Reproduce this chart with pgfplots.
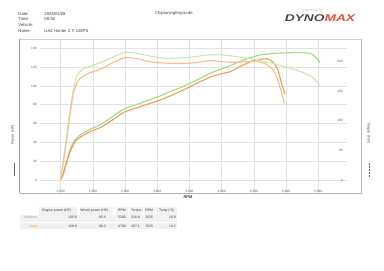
\documentclass[border=0pt]{standalone}
\usepackage{pgfplots}
\pgfplotsset{compat=1.18}
\usepackage{fontspec}
\setmainfont{Liberation Sans}
\definecolor{gpow}{HTML}{A3D98B}
\definecolor{gtor}{HTML}{C6E9B3}
\definecolor{opow}{HTML}{F79B57}
\definecolor{otor}{HTML}{F8BC8E}
\definecolor{gridc}{HTML}{E2E2E2}
\definecolor{txt}{HTML}{3A3A3A}
\definecolor{tick}{HTML}{555555}
\definecolor{cell}{HTML}{F1F1F1}
\definecolor{maxred}{HTML}{E8503A}
\definecolor{dyno}{HTML}{4A4A4A}
\begin{document}
\begin{tikzpicture}[x=1pt,y=1pt]
\useasboundingbox (0,0) rectangle (384,271);
% header
\begin{scope}[every node/.style={inner sep=0pt, anchor=west, text=txt, font=\fontsize{4.2}{5}\selectfont}]
\node at (18.3,257.3) {Date:};
\node at (44.3,257.3) {2025/01/08};
\node at (18.3,251.7) {Time:};
\node at (44.3,251.7) {08:36};
\node at (18.3,246) {Vehicle:};
\node at (18.3,240.3) {Name:};
\node at (44.3,240.3) {UAZ Hunter 2.7i 128PS};
\node at (155,257.3) {Chiptuningforyou.de};
\end{scope}
% logo
\node[inner sep=0pt, text=gray!45, font=\fontsize{3.8}{4}\selectfont\itshape] at (313,260.5) {powered by};
\node[inner sep=0pt, font=\fontsize{9.8}{10}\selectfont\bfseries\itshape] at (320,253.3) {\scalebox{1.4}[1]{\textcolor{dyno}{DYNO}\textcolor{maxred}{MAX}}};
% power axis
\begin{axis}[
  at={(39.5pt,77.7pt)}, anchor=south west,
  scale only axis, width=307.2pt, height=154.3pt,
  xmin=1171, xmax=5941, ymin=-14.14, ymax=149.9,
  axis line style={draw=none}, major tick length=0pt,
  xtick={1500,2000,2500,3000,3500,4000,4500,5000,5500},
  xticklabels={1.500,2.000,2.500,3.000,3.500,4.000,4.500,5.000,5.500},
  ytick={0,20,40,60,80,100,120,140},
  grid=major, grid style={gridc, line width=0.5pt},
  /pgf/number format/assume math mode=true,
  tick label style={font=\fontsize{3.2}{4}\selectfont, text=tick},
  xticklabel style={anchor=base, yshift=0.6pt},
  yticklabel style={xshift=0.6pt},
  clip=false,
]
\addplot[gpow, line width=1.1pt, smooth, tension=0.45] coordinates {
(1500,0)(1540,7)(1567,14)(1600,22)(1644,32)(1680,38)(1722,42.5)(1800,47.8)(1955,53.9)(2110,58.5)(2266,65.6)(2400,72)(2498,76.2)(2731,81.5)(2887,85.5)(3050,89.5)(3197,93.9)(3350,98)(3508,102.8)(3650,107.5)(3818,113.4)(3970,117.5)(4129,121.5)(4300,126.5)(4439,130)(4595,132.9)(4826,134.7)(5000,135.2)(5200,135.6)(5292,135.3)(5397,134)(5475,129.4)(5526,124.7)};
\addplot[opow, line width=1.1pt, smooth, tension=0.45] coordinates {
(1500,0)(1540,6)(1567,13)(1600,20)(1644,29.5)(1680,35)(1722,40.7)(1800,45.4)(1955,51.4)(2110,55.6)(2266,62)(2400,68.5)(2498,72.6)(2731,77.9)(2887,81.5)(3050,85.2)(3197,89.3)(3350,94)(3508,99.2)(3650,104)(3818,109.2)(3970,112.5)(4129,115.1)(4250,119.5)(4388,124)(4500,127.3)(4595,128.3)(4700,128.9)(4760,127.5)(4820,123)(4870,118)(4920,105)(4983,91.4)};
\end{axis}
% torque axis
\begin{axis}[
  at={(39.5pt,77.7pt)}, anchor=south west,
  scale only axis, width=307.2pt, height=154.3pt,
  xmin=1171, xmax=5941, ymin=-22.5, ymax=238.4,
  hide x axis, axis line style={draw=none}, major tick length=0pt,
  yticklabel pos=right,
  ytick={0,50,100,150,200},
  /pgf/number format/assume math mode=true,
  tick label style={font=\fontsize{3.2}{4}\selectfont, text=tick},
  yticklabel style={anchor=east, xshift=-0.4pt},
  clip=false,
]
\addplot[gtor, line width=1.1pt, smooth, tension=0.45] coordinates {
(1500,0)(1560,48)(1618,96)(1660,128)(1696,152)(1748,175)(1826,186)(1929,191.5)(2110,198.3)(2266,205.7)(2400,212)(2498,216)(2600,215.5)(2731,213)(2887,209.6)(3050,206.5)(3197,205.7)(3350,206.5)(3508,207.4)(3650,209.5)(3818,211.8)(4020,211.3)(4237,208.5)(4400,206)(4516,204)(4671,200)(4830,196)(4981,191.6)(5150,186)(5292,180.4)(5397,174.6)(5470,167)(5526,159.5)};
\addplot[otor, line width=1.1pt, smooth, tension=0.45] coordinates {
(1500,0)(1560,44)(1618,90)(1660,122)(1696,146.6)(1750,163)(1800,172)(1955,181.4)(2110,187)(2266,196)(2400,203)(2498,207.1)(2600,206.5)(2731,204)(2887,200)(3050,198)(3197,197.3)(3350,197)(3508,197.3)(3650,199.5)(3818,201.7)(3970,200.5)(4129,199)(4250,199.3)(4388,200)(4516,201)(4600,199)(4671,197)(4775,188.8)(4853,174.6)(4910,155)(4972,129.7)};
\end{axis}
% frame
\draw[gray!35, line width=0.5pt] (19.5,232) -- (361.7,232);
\draw[gray!75, line width=1pt] (19.5,232) -- (19.5,77.7);
\draw[gray!60, line width=0.8pt] (19.5,77.7) -- (361.7,77.7);
\draw[gray!55, line width=1pt] (361.7,232) -- (361.7,77.7);
% axis titles
\node[inner sep=0pt, rotate=90, text=tick, font=\fontsize{3.8}{4}\selectfont] at (13,136) {Power (HP)};
\node[inner sep=0pt, rotate=-90, text=tick, font=\fontsize{3.8}{4}\selectfont] at (368.5,138) {Torque (Nm)};
\node[inner sep=0pt, text=txt, font=\fontsize{4}{5}\selectfont\bfseries] at (188,73.7) {RPM};
\draw[gray!80!black, line width=0.8pt] (14.3,107.7) -- (14.3,95);
\draw[gray!80!black, line width=0.8pt, dash pattern=on 0.9pt off 0.6pt] (369.3,108) -- (369.3,94.3);
% table
\fill[cell] (39.3,56.3) rectangle (77.3,63.7);
\fill[cell] (80,56.3) rectangle (113.3,63.7);
\fill[cell] (116,56.3) rectangle (128.3,63.7);
\fill[cell] (129.3,56.3) rectangle (143.3,63.7);
\fill[cell] (144.3,56.3) rectangle (155,63.7);
\fill[cell] (156,56.3) rectangle (176.7,63.7);
\fill[cell] (20,49.3) rectangle (176.7,55.7);
\fill[cell] (20,41.7) rectangle (176.7,48.3);
\begin{scope}[every node/.style={inner sep=0pt, text=txt, font=\fontsize{3.4}{4}\selectfont}]
\node at (56.7,60.3) {Engine power (HP)};
\node at (94.3,60.3) {Wheel power (HP)};
\node at (122,60.3) {RPM};
\node at (136.3,60.3) {Torque};
\node at (149.2,60.3) {RPM};
\node at (166.9,60.3) {Temp (°C)};
\node[anchor=east, text=gpow!85!black] at (37.5,53.3) {Software};
\node[anchor=east] at (77,53.3) {135.6};
\node[anchor=east] at (106,53.3) {85.4};
\node[anchor=east] at (126,53.3) {5200};
\node[anchor=east] at (140,53.3) {216.8};
\node[anchor=east] at (153.3,53.3) {2525};
\node[anchor=east] at (176,53.3) {16.9};
\node[anchor=east, text=opow] at (37.5,45) {Serie};
\node[anchor=east] at (77,45) {128.9};
\node[anchor=east] at (106,45) {86.2};
\node[anchor=east] at (126,45) {4700};
\node[anchor=east] at (140,45) {207.1};
\node[anchor=east] at (153.3,45) {2525};
\node[anchor=east] at (176,45) {14.2};
\end{scope}
\end{tikzpicture}
\end{document}
